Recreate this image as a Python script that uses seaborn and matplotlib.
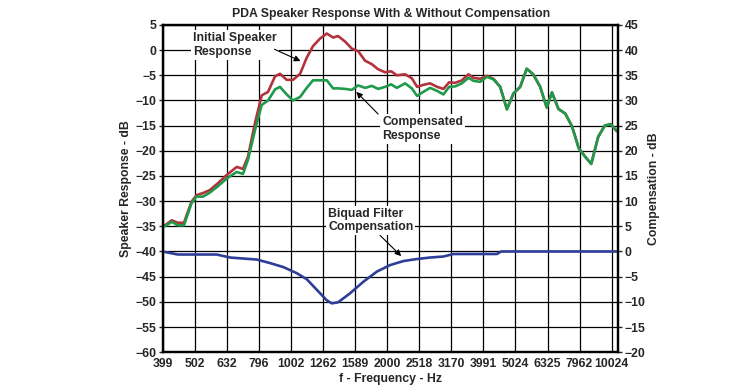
import numpy as np
import pandas as pd
import seaborn as sns
import matplotlib
matplotlib.use("Agg")
import matplotlib.pyplot as plt

# Frequency axis ticks (third-octave steps)
tick_freqs = [399, 502, 632, 796, 1002, 1262, 1589, 2000, 2518, 3170, 3991,
              5024, 6325, 7962, 10024]

# Speaker response, with and without compensation (left axis, dB)
resp_freq = [405, 425, 444, 464, 490, 508, 532, 559, 593, 631, 678, 709, 735,
             773, 811, 849, 893, 925, 971, 1016, 1069, 1121, 1173, 1234, 1295,
             1355, 1404, 1477, 1550, 1622, 1705, 1790, 1872, 1969, 2056, 2142,
             2273, 2386, 2478, 2588, 2721, 2862, 2994, 3119, 3257, 3418, 3584,
             3715, 3899, 4091, 4290, 4501, 4724, 4953, 5197, 5446, 5706, 6001,
             6288, 6528, 6843, 7182, 7537, 7916, 8295, 8658, 9105, 9544, 9963,
             10402]
initial_db = [-34.8, -33.8, -34.3, -34.3, -30.1, -28.8, -28.4, -27.8, -26.4,
              -24.8, -23.2, -23.6, -21.2, -14.5, -9.0, -8.3, -5.2, -4.7, -5.9,
              -5.9, -4.7, -1.5, 0.8, 2.3, 3.3, 2.5, 2.8, 1.7, 0.3, -0.2, -2.1,
              -2.8, -3.8, -4.4, -4.2, -5.0, -4.8, -5.6, -7.3, -6.9, -6.6, -7.3,
              -7.7, -6.4, -6.5, -6.0, -4.8, -5.5, -5.7, -5.1, -5.7, -7.3, -11.7,
              -8.6, -7.3, -3.7, -4.8, -7.3, -11.4, -8.4, -11.7, -12.6, -15.1,
              -19.5, -21.2, -22.6, -17.2, -15.0, -14.7, -16.1]
compensated_db = [-35.0, -34.1, -34.8, -34.8, -30.4, -29.1, -29.1, -28.3,
                  -27.0, -25.5, -24.2, -24.6, -21.8, -15.9, -10.9, -10.0, -7.8,
                  -7.3, -8.8, -10.0, -9.3, -7.5, -6.0, -6.0, -6.0, -7.6, -7.6,
                  -7.7, -7.9, -7.0, -7.5, -7.1, -7.7, -7.3, -6.8, -7.5, -6.6,
                  -7.6, -9.1, -8.3, -7.5, -8.1, -8.8, -7.3, -7.2, -6.6, -5.5,
                  -6.1, -6.3, -5.3, -5.8, -7.3, -11.8, -8.6, -7.3, -3.7, -4.8,
                  -7.3, -11.4, -8.4, -11.7, -12.6, -15.1, -19.5, -21.2, -22.6,
                  -17.2, -15.0, -14.7, -16.1]

# Biquad filter compensation (right axis, dB)
biquad_freq = [405, 444, 587, 646, 711, 783, 861, 948, 1043, 1121, 1205, 1295,
               1342, 1404, 1531, 1685, 1855, 2041, 2246, 2473, 2721, 2994, 3217,
               3542, 4397, 4533, 10402]
biquad_db = [-0.1, -0.6, -0.6, -1.2, -1.4, -1.6, -2.3, -3.1, -4.3, -5.5, -7.6,
             -9.7, -10.3, -10.1, -8.3, -6.0, -4.0, -2.7, -1.9, -1.5, -1.2, -1.0,
             -0.5, -0.5, -0.5, 0.0, 0.0]

red = "#b3323c"
green = "#1f9a4b"
blue = "#2d3e98"

sns.set_style("white")
plt.rcParams["font.family"] = ["Liberation Sans", "DejaVu Sans"]
plt.rcParams["font.weight"] = "bold"
plt.rcParams["axes.labelweight"] = "bold"
plt.rcParams["axes.titleweight"] = "bold"

resp = pd.DataFrame({"f": resp_freq, "initial": initial_db,
                     "compensated": compensated_db})
biquad = pd.DataFrame({"f": biquad_freq, "gain": biquad_db})

fig, ax = plt.subplots(figsize=(7.44, 3.9), dpi=100)
fig.subplots_adjust(left=0.219, right=0.831, top=0.936, bottom=0.097)
ax2 = ax.twinx()

sns.lineplot(data=resp, x="f", y="initial", color=red, lw=1.9, ax=ax)
sns.lineplot(data=resp, x="f", y="compensated", color=green, lw=1.9, ax=ax)
sns.lineplot(data=biquad, x="f", y="gain", color=blue, lw=1.9, ax=ax2)

ax.set_xscale("log")
ax.set_xlim(399, 10514)
ax.set_xticks(tick_freqs)
ax.set_xticklabels([str(t) for t in tick_freqs])
ax.minorticks_off()
ax2.minorticks_off()

ax.set_ylim(-60, 5)
ax.set_yticks(np.arange(-60, 6, 5))
ax2.set_ylim(-20, 45)
ax2.set_yticks(np.arange(-20, 46, 5))

fs = 8.8
ax.grid(True, color="black", lw=0.9)
ax.set_axisbelow(True)
for a in (ax, ax2):
    for s in a.spines.values():
        s.set_linewidth(1.6)
        s.set_color("black")
    a.tick_params(labelsize=fs, length=3, width=1, direction="out", pad=1.5)

ax.set_xlabel("f - Frequency - Hz", fontsize=fs, labelpad=2)
ax.set_ylabel("Speaker Response - dB", fontsize=fs, labelpad=3)
ax2.set_ylabel("Compensation - dB", fontsize=fs, labelpad=2)
ax.set_title("PDA Speaker Response With & Without Compensation",
             fontsize=fs, pad=6)

box = dict(facecolor="white", edgecolor="none", pad=1.5)
arrow = dict(arrowstyle="-|>", color="black", lw=0.8, mutation_scale=9)

ax.text(495, 1.0, "Initial Speaker\nResponse", fontsize=fs, ha="left",
        va="center", bbox=box, zorder=5, linespacing=1.2)
ax.annotate("", xy=(1092, -2.4), xytext=(873, 0.4), arrowprops=arrow, zorder=5)

ax.text(1927, -15.6, "Compensated\nResponse", fontsize=fs, ha="left",
        va="center", bbox=box, zorder=5, linespacing=1.2)
ax.annotate("", xy=(1578, -7.9), xytext=(1900, -13.1), arrowprops=arrow,
            zorder=5)

ax.text(1307, -33.8, "Biquad Filter\nCompensation", fontsize=fs, ha="left",
        va="center", bbox=box, zorder=5, linespacing=1.1)
ax.annotate("", xy=(2242, -41.3), xytext=(1871, -36.4), arrowprops=arrow,
            zorder=5)

plt.savefig("out.png", dpi=100)
